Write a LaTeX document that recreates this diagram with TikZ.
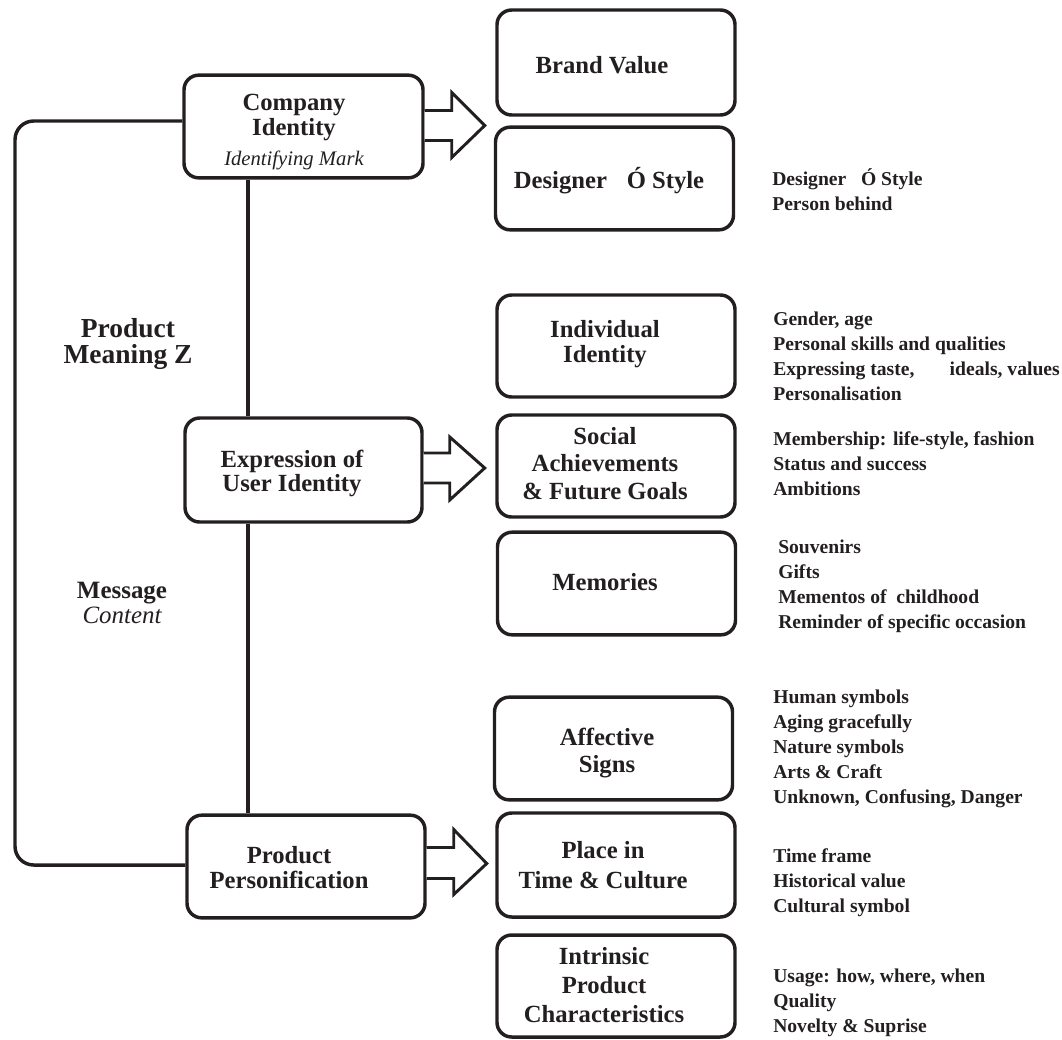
\documentclass[tikz,border=0pt]{standalone}
\usepackage{fontspec}
\setmainfont{Liberation Serif}
\definecolor{ink}{HTML}{231F20}
\begin{document}
\begin{tikzpicture}[x=0.75pt,y=-0.75pt,
  box/.style={draw=ink, line width=2.6pt, rounded corners=11pt, inner sep=0pt,
    minimum width=178.5pt, minimum height=77pt},
  btext/.style={font=\fontsize{18.5}{19.5}\selectfont\bfseries, text=ink, align=center, inner sep=0pt, anchor=base},
  listtext/.style={font=\fontsize{14.7}{18.75}\selectfont\bfseries, text=ink, align=left, anchor=base west, inner sep=0pt},
  link/.style={draw=ink, line width=2.6pt},
  barrow/.style={draw=ink, line width=2.2pt, line join=miter, fill=white}
]
\useasboundingbox (0,0) rectangle (1062,1039);

% left boxes
\node[box, minimum width=179.25pt] (company) at (303.5,126.5) {};
\node[box, minimum width=177.75pt, minimum height=78pt] (expression) at (303.5,470) {};
\node[box] (product) at (306,866.5) {};

% right boxes
\node[box, minimum height=78.75pt] (brand) at (616,62.5) {};
\node[box] (designer) at (614.5,178.5) {};
\node[box, minimum height=76.5pt] (individual) at (616,346) {};
\node[box, minimum height=76.5pt] (social) at (616,466) {};
\node[box] (memories) at (616.5,583.5) {};
\node[box] (affective) at (613.5,748.5) {};
\node[box, minimum height=78pt] (place) at (616,865) {};
\node[box, minimum height=76.5pt] (intrinsic) at (616,986) {};

% box texts (anchored at the baseline of the last line)
\node[btext, font=\fontsize{18.5}{18.75}\selectfont\bfseries] (tcompany) at (294,165) {Company\\Identity\\[3.75pt]{\mdseries\itshape\fontsize{15.5}{18}\selectfont Identifying Mark}};
\node[btext, font=\fontsize{18.5}{18}\selectfont\bfseries] (texpression) at (292,491) {Expression of\\User Identity};
\node[btext, font=\fontsize{18.5}{18.75}\selectfont\bfseries] (tproduct) at (289,888) {Product\\Personification};
\node[btext] (tbrand) at (602,73) {Brand Value};
\node[btext] (tdesigner) at (609,188) {Designer\hspace{0.8em}Ó Style};
\node[btext, font=\fontsize{18.5}{18.75}\selectfont\bfseries] (tindividual) at (605,362) {Individual\\Identity};
\node[btext, font=\fontsize{18.5}{20.5}\selectfont\bfseries] (tsocial) at (605,499) {Social\\Achievements\\\& Future Goals};
\node[btext] (tmemories) at (605,590) {Memories};
\node[btext, font=\fontsize{18.5}{20.25}\selectfont\bfseries] (taffective) at (607,772) {Affective\\Signs};
\node[btext, font=\fontsize{18.5}{22}\selectfont\bfseries] (tplace) at (603,888) {Place in\\Time \& Culture};
\node[btext, font=\fontsize{18.5}{21.5}\selectfont\bfseries] (tintrinsic) at (604,1022) {Intrinsic\\Product\\Characteristics};

% free labels
\node[btext, font=\fontsize{20.6}{19.5}\selectfont\bfseries] (meaning) at (128,363) {Product\\Meaning Z};
\node[btext, font=\fontsize{18.7}{18.5}\selectfont\bfseries] (message) at (122,623) {Message\\{\mdseries\itshape Content}};

% lists
\node[listtext] (ldesigner) at (772,210) {Designer\hspace{0.75em}Ó Style\\Person behind};
\node[listtext] (lindividual) at (773,400) {Gender, age\\Personal skills and qualities\\Expressing taste,\hspace{1.8em}ideals, values\\Personalisation};
\node[listtext] (lsocial) at (773,495) {Membership: life-style, fashion\\Status and success\\Ambitions};
\node[listtext] (lmemories) at (778,628) {Souvenirs\\Gifts\\Mementos of\ \ childhood\\Reminder of specific occasion};
\node[listtext] (laffective) at (773,803) {Human symbols\\Aging gracefully\\Nature symbols\\Arts \& Craft\\Unknown, Confusing, Danger};
\node[listtext] (lplace) at (773,912) {Time frame\\Historical value\\Cultural symbol};
\node[listtext] (lintrinsic) at (773,1032) {Usage: how, where, when\\Quality\\Novelty \& Suprise};

% connectors
\coordinate (lt) at (15,121);
\coordinate (lb) at (15,865);
\draw[link, rounded corners=14pt] (lt -| company.west) -- (lt) -- (lb) -- (lb -| product.west);
\draw[link] (company.south -| 248,0) -- (expression.north -| 248,0);
\draw[link] (expression.south -| 248,0) -- (product.north -| 248,0);

% block arrows
\draw[barrow] (company.east) ++(0,-16) -- ++(27,0) -- ++(0,-18) -- ++(33,33) -- ++(-33,32) -- ++(0,-17) -- ++(-27,0);
\draw[barrow] (expression.east) ++(0,-17) -- ++(26,0) -- ++(0,-16) -- ++(35,31) -- ++(-35,32) -- ++(0,-17) -- ++(-26,0);
\draw[barrow] (product.east) ++(0,-19) -- ++(27,0) -- ++(0,-18) -- ++(33,34) -- ++(-33,31) -- ++(0,-16) -- ++(-27,0);
\end{tikzpicture}
\end{document}
